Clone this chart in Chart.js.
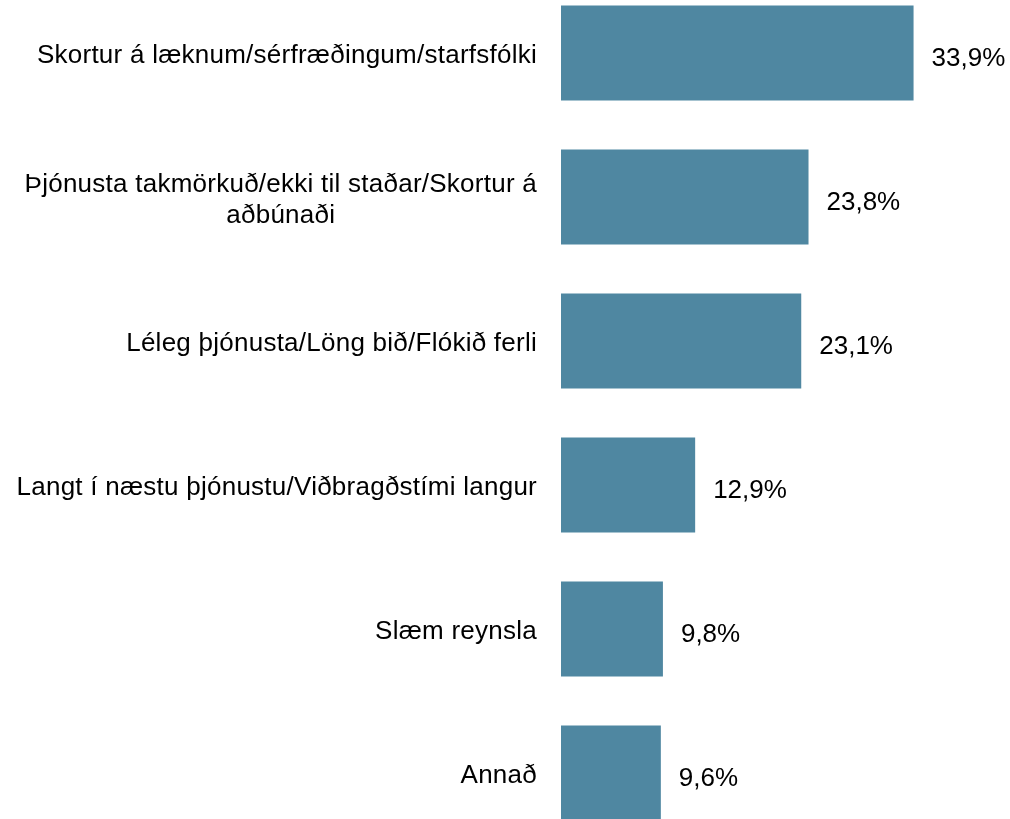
<!DOCTYPE html>
<html>
<head>
<meta charset="utf-8">
<script src="https://cdn.jsdelivr.net/npm/chart.js@4"></script>
<style>
	html, body { margin: 0; padding: 0; background: #fff; overflow: hidden; }
	#wrap { position: absolute; left: 0; top: -19px; width: 1010px; height: 864px; }
</style>
</head>
<body>
<div id="wrap"><canvas id="cvs"></canvas></div>
<script>
var categories = [
	["Skortur á læknum/sérfræðingum/starfsfólki"],
	["Þjónusta takmörkuð/ekki til staðar/Skortur á", "aðbúnaði"],
	["Léleg þjónusta/Löng bið/Flókið ferli"],
	["Langt í næstu þjónustu/Viðbragðstími langur"],
	["Slæm reynsla"],
	["Annað"]
];
var values = [33.9, 23.8, 23.1, 12.9, 9.8, 9.6];
var barColor = "#4f87a1";
var FONT = "26px 'Liberation Sans', Arial, sans-serif";

// category labels: each label centred on its own widest line, right edge next to the bars
var catLabels = {
	id: "catLabels",
	afterDraw: function(chart) {
		var ctx = chart.ctx;
		var y = chart.scales.y;
		var right = chart.chartArea.left - 24;
		ctx.save();
		ctx.font = FONT;
		ctx.letterSpacing = "0.25px";
		ctx.fillStyle = "#000";
		ctx.textAlign = "center";
		ctx.textBaseline = "middle";
		for (var i = 0; i < categories.length; i++) {
			var lines = categories[i];
			var w = 0;
			for (var j = 0; j < lines.length; j++) {
				w = Math.max(w, ctx.measureText(lines[j]).width);
			}
			var cx = right - w / 2;
			var lh = 31;
			var cy = y.getPixelForValue(i) + 3 - (lines.length - 1) * lh / 2;
			for (var j = 0; j < lines.length; j++) {
				ctx.fillText(lines[j], cx, cy + j * lh);
			}
		}
		ctx.restore();
	}
};

// value labels after each bar
var valueLabels = {
	id: "valueLabels",
	afterDatasetsDraw: function(chart) {
		var ctx = chart.ctx;
		var meta = chart.getDatasetMeta(0);
		ctx.save();
		ctx.font = FONT;
		ctx.fillStyle = "#000";
		ctx.textAlign = "left";
		ctx.textBaseline = "middle";
		meta.data.forEach(function(bar, i) {
			var txt = values[i].toFixed(1).replace(".", ",") + "%";
			ctx.fillText(txt, bar.x + 18, bar.y + 6);
		});
		ctx.restore();
	}
};

new Chart(document.getElementById("cvs"), {
	type: "bar",
	data: {
		labels: categories.map(function(c) { return c.join(" "); }),
		datasets: [
			{
				data: values,
				backgroundColor: barColor,
				borderWidth: 0,
				barPercentage: 0.66,
				categoryPercentage: 1
			}
		]
	},
	options: {
		indexAxis: "y",
		responsive: true,
		maintainAspectRatio: false,
		animation: false,
		layout: {
			padding: { left: 561, right: 33, top: 0, bottom: 0 }
		},
		scales: {
			x: {
				display: false,
				min: 0,
				max: 40
			},
			y: {
				display: false
			}
		},
		plugins: {
			legend: { display: false },
			title: { display: false },
			tooltip: { enabled: false }
		}
	},
	plugins: [catLabels, valueLabels]
});
</script>
</body>
</html>
